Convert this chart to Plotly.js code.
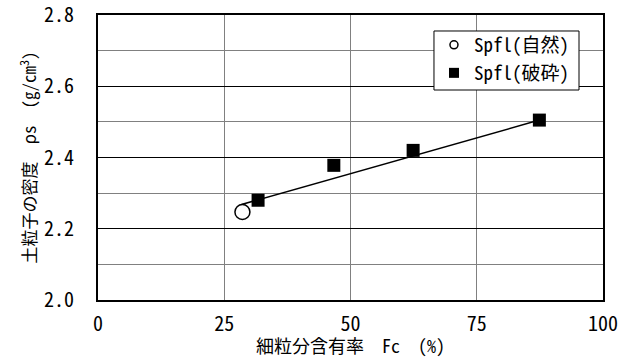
<!DOCTYPE html>
<html>
<head>
<meta charset="utf-8">
<script src="https://cdn.plot.ly/plotly-3.0.1.min.js"></script>
<style>html,body{margin:0;padding:0;background:#fff;}#chart{width:636px;height:358px;}</style>
</head>
<body>
<div id="chart"></div>
<script>
// Data
const naturalName = 'Spfl(自然)';
const naturalFc = [28.6];
const naturalRho = [2.247];

const crushedName = 'Spfl(破砕)';
const crushedFc = [31.7, 46.7, 62.4, 87.4];
const crushedRho = [2.280, 2.378, 2.420, 2.505];

const trendFc = [28.4, 87.4];
const trendRho = [2.268, 2.505];

const xTickVals = [0, 25, 50, 75, 100];
const xTickText = ['0', '25', '50', '75', '100'];
const yTickVals = [2.0, 2.2, 2.4, 2.6, 2.8];
const yTickText = ['2.0', '2.2', '2.4', '2.6', '2.8'];

const xTitle = '細粒分含有率　Fc　(%)';
const yTitle = '土粒子の密度　ρs　(g/cm<sup>3</sup>)';

const FONT = '"Noto Sans Mono CJK JP", "Noto Sans CJK JP", "DejaVu Sans Mono", monospace';

const traces = [
  {
    x: trendFc, y: trendRho, mode: 'lines', type: 'scatter',
    line: {color: '#000', width: 1.5}, showlegend: false, hoverinfo: 'skip'
  },
  {
    x: naturalFc, y: naturalRho, mode: 'markers', type: 'scatter', name: naturalName,
    showlegend: false,
    marker: {symbol: 'circle', size: 15, color: '#fff', line: {color: '#000', width: 1.5}}
  },
  {
    x: crushedFc, y: crushedRho, mode: 'markers', type: 'scatter', name: crushedName,
    showlegend: false,
    marker: {symbol: 'square', size: 13, color: '#000', line: {color: '#000', width: 0}}
  },
  // legend entries (smaller symbols, as in the reference legend)
  {
    x: [null], y: [null], mode: 'markers', type: 'scatter', name: naturalName, legend: 'legend',
    marker: {symbol: 'circle', size: 8, color: '#fff', line: {color: '#000', width: 1.5}}
  },
  {
    x: [null], y: [null], mode: 'markers', type: 'scatter', name: crushedName, legend: 'legend2',
    marker: {symbol: 'square', size: 10, color: '#000', line: {width: 0}}
  }
];

const legendFont = {family: FONT, size: 19, color: '#000'};

const layout = {
  width: 636, height: 358,
  margin: {l: 98, r: 33, t: 15, b: 58},
  paper_bgcolor: '#fff', plot_bgcolor: '#fff',
  font: {family: FONT, color: '#000', size: 16},
  showlegend: true,
  legend: {
    x: 0.6653, y: 0.8947, xanchor: 'left', yanchor: 'middle',
    bgcolor: 'rgba(0,0,0,0)', borderwidth: 0, font: legendFont
  },
  legend2: {
    x: 0.6653, y: 0.7965, xanchor: 'left', yanchor: 'middle',
    bgcolor: 'rgba(0,0,0,0)', borderwidth: 0, font: legendFont
  },
  shapes: [{
    type: 'rect', xref: 'paper', yref: 'paper',
    x0: 0.6653, x1: 0.9525, y0: 0.7368, y1: 0.9439,
    fillcolor: '#fff', line: {color: '#000', width: 1}, layer: 'above'
  }],
  xaxis: {
    range: [0, 100.0001], tickvals: xTickVals, ticktext: xTickText,
    showgrid: true, gridcolor: '#808080', gridwidth: 1,
    zeroline: false, showline: true, linecolor: '#000', linewidth: 2, mirror: true,
    ticks: 'outside', ticklen: 5, tickcolor: 'rgba(0,0,0,0)',
    ticklabeloverflow: 'allow',
    tickfont: {family: FONT, size: 20, color: '#000'},
    title: {text: xTitle, font: {family: FONT, size: 18, color: '#000'}, standoff: 3}
  },
  yaxis: {
    range: [1.99999, 2.80001], tickvals: yTickVals, ticktext: yTickText,
    showgrid: true, gridcolor: '#000', gridwidth: 1,
    minor: {dtick: 0.1, tick0: 2.0, showgrid: true, gridcolor: '#808080', gridwidth: 1, ticks: ''},
    zeroline: false, showline: true, linecolor: '#000', linewidth: 2, mirror: true,
    ticks: 'outside', ticklen: 18, tickcolor: 'rgba(0,0,0,0)',
    ticklabeloverflow: 'allow',
    tickfont: {family: FONT, size: 20, color: '#000'},
    title: {text: yTitle, font: {family: FONT, size: 17, color: '#000'}, standoff: 3}
  }
};

Plotly.newPlot('chart', traces, layout, {displayModeBar: false, staticPlot: true});
</script>
</body>
</html>
